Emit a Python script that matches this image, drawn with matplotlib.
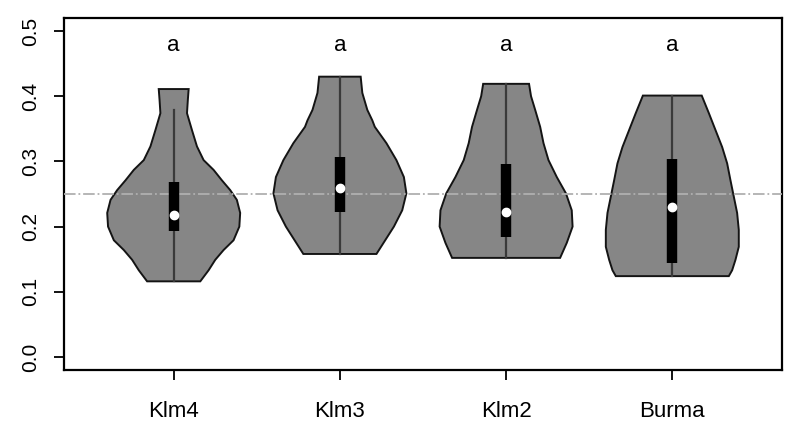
import matplotlib.pyplot as plt
import numpy as np

plt.rcParams['font.family'] = ['Liberation Sans', 'DejaVu Sans']

groups = ["Klm4", "Klm3", "Klm2", "Burma"]

# violin outlines: value levels and half widths
klm4_y = [0.411, 0.394, 0.374, 0.348, 0.323, 0.302, 0.287, 0.271, 0.256, 0.241, 0.221, 0.200, 0.179, 0.164, 0.149, 0.133, 0.116]
klm4_w = [0.090, 0.085, 0.080, 0.110, 0.140, 0.180, 0.240, 0.290, 0.340, 0.380, 0.400, 0.395, 0.360, 0.300, 0.250, 0.210, 0.160]
klm3_y = [0.430, 0.405, 0.379, 0.363, 0.353, 0.328, 0.302, 0.276, 0.251, 0.225, 0.200, 0.180, 0.158]
klm3_w = [0.125, 0.135, 0.165, 0.195, 0.210, 0.280, 0.340, 0.385, 0.400, 0.375, 0.325, 0.275, 0.220]
klm2_y = [0.419, 0.400, 0.379, 0.353, 0.328, 0.302, 0.276, 0.251, 0.225, 0.200, 0.175, 0.152]
klm2_w = [0.138, 0.150, 0.175, 0.205, 0.225, 0.255, 0.305, 0.360, 0.395, 0.400, 0.365, 0.325]
burma_y = [0.401, 0.374, 0.348, 0.322, 0.297, 0.271, 0.246, 0.221, 0.195, 0.169, 0.149, 0.133, 0.124]
burma_w = [0.177, 0.220, 0.260, 0.300, 0.330, 0.350, 0.370, 0.390, 0.400, 0.400, 0.380, 0.360, 0.340]

q1 = [0.193, 0.222, 0.184, 0.144]
q3 = [0.268, 0.307, 0.296, 0.304]
medians = [0.218, 0.259, 0.222, 0.230]
whisk_lo = [0.116, 0.158, 0.152, 0.124]
whisk_hi = [0.379, 0.430, 0.419, 0.401]
letters = ["a", "a", "a", "a"]

shapes = [(klm4_y, klm4_w), (klm3_y, klm3_w), (klm2_y, klm2_w), (burma_y, burma_w)]

fig = plt.figure(figsize=(7.94, 4.30), dpi=100)
ax = fig.add_axes([64/794, 60/430, 718/794, 352/430])

for i, (ys, ws) in enumerate(shapes):
    pos = i + 1
    ys = np.array(ys)
    ws = np.array(ws)
    xs = np.concatenate([pos - ws, (pos + ws)[::-1]])
    yy = np.concatenate([ys, ys[::-1]])
    ax.fill(xs, yy, facecolor="#868686", edgecolor="#141414", lw=1.4, zorder=2)
    ax.plot([pos, pos], [whisk_lo[i], whisk_hi[i]], color="#3a3a3a", lw=1.6, zorder=3)
    ax.plot([pos, pos], [q1[i], q3[i]], color="black", lw=7.5, solid_capstyle="butt", zorder=4)
    ax.plot(pos, medians[i], "o", color="white", ms=6, mec="white", zorder=5)
    ax.text(pos, 0.478, letters[i], ha="center", va="center", fontsize=16)

ax.axhline(0.25, color="#b0b0b0", lw=1.3, ls="-.", zorder=3)

ax.set_xlim(0.34, 4.66)
ax.set_ylim(-0.02, 0.52)
ax.set_xticks([1, 2, 3, 4])
ax.set_xticklabels(groups)
ax.set_yticks([0.0, 0.1, 0.2, 0.3, 0.4, 0.5])
ax.set_yticklabels(["0.0", "0.1", "0.2", "0.3", "0.4", "0.5"], rotation=90, va="center")
ax.tick_params(axis="x", length=7, width=1.3, pad=15, labelsize=16)
ax.tick_params(axis="y", length=7, width=1.3, pad=10, labelsize=15)
for s in ax.spines.values():
    s.set_linewidth(1.6)

fig.savefig("out.png", dpi=100)
